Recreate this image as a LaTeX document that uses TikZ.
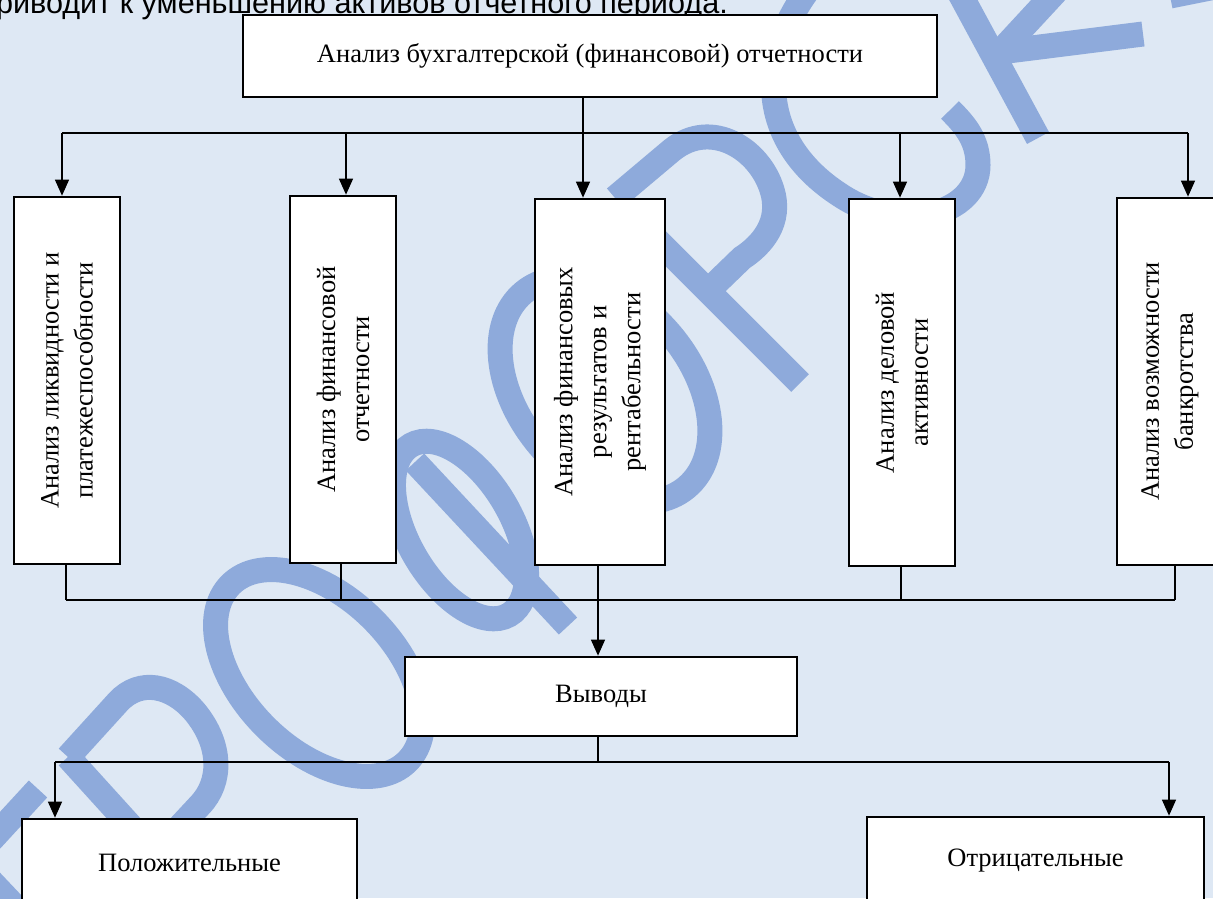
\documentclass[tikz,border=0pt]{standalone}
\usepackage{fontspec}
\setmainfont{Liberation Serif}
\newfontfamily\arialf{Liberation Sans}
\usetikzlibrary{arrows.meta}
\definecolor{bgc}{HTML}{DEE8F4}
\definecolor{wmc}{HTML}{8EAADB}
\begin{document}
\begin{tikzpicture}[x=1pt,y=-1pt,
  box/.style={draw=black, line width=2.7pt, fill=white, inner sep=0pt},
  conn/.style={draw=black, line width=1.3pt},
  arr/.style={conn, -{Triangle[length=16pt,width=14pt]}},
  wm/.style={draw=wmc, line width=25pt},
  htxt/.style={font=\fontsize{26.5}{34}\selectfont},
  vtxt/.style={rotate=90, align=center, font=\fontsize{26.5}{34}\selectfont, inner sep=0pt},
]
\useasboundingbox (0,0) rectangle (1213,898);
\clip (0,0) rectangle (1213,898);
\fill[bgc] (0,0) rectangle (1213,898);

% ---- watermark ----
\draw[wm] (38,789) -- (-20,852);
\draw[wm] (-15,875) -- (20,912);
\draw[wm] (68,757) -- (175,875);
\draw[wm] (68,757) -- (118,702) .. controls (140,678) and (172,685) .. (195,712)
  .. controls (222,745) and (222,782) .. (200,805) -- (160,848);
\begin{scope}[shift={(319,673)}, rotate=-45]
  \draw[wm] (0,0) ellipse [x radius=125pt, y radius=76pt];
\end{scope}
\draw[wm] (415,462) -- (568,626);
\begin{scope}[shift={(460,530)}, rotate=-60]
  \draw[wm] (0,0) ellipse [x radius=98pt, y radius=52pt];
\end{scope}
\begin{scope}[shift={(605,390)}, rotate=-50]
  \draw[wm] (0,0) ellipse [x radius=127pt, y radius=86pt];
\end{scope}
\draw[wm] (615,198) -- (800,383);
\draw[wm] (615,198) -- (672,150) .. controls (712,118) and (760,150) .. (772,190)
  .. controls (782,222) and (762,245) .. (742,258) -- (712,287);
\draw[wm] (820,-25) .. controls (755,50) and (755,140) .. (840,195)
  .. controls (900,235) and (978,215) .. (978,165)
  .. controls (978,140) and (965,125) .. (950,110);
\draw[wm] (958,-10) -- (1038,138);
\draw[wm] (1000,52) -- (1143,34);
\draw[wm] (1000,52) -- (1062,-15);
\draw[wm] (1170,-4) -- (1230,-16);

% ---- text above ----
\node[anchor=base east, inner sep=0pt, font=\arialf\fontsize{30.6}{36}\selectfont] (note) at (728,13)
  {приводит к уменьшению активов отчетного периода.};

% ---- boxes ----
\node[box, htxt, minimum width=694pt, minimum height=82pt] (top) at (590,56)
  {Анализ бухгалтерской (финансовой) отчетности};
\node[box, minimum width=106pt, minimum height=367pt] (b1) at (67,380.5) {};
\node[box, minimum width=106pt, minimum height=367pt] (b2) at (343,379.5) {};
\node[box, minimum width=130pt, minimum height=366pt] (b3) at (600,382) {};
\node[box, minimum width=106pt, minimum height=367pt] (b4) at (902,382.5) {};
\node[box, minimum width=106pt, minimum height=367pt] (b5) at (1170,381.5) {};
\node[vtxt] (t1) at (b1.center) {Анализ ликвидности и\\платежеспособности};
\node[vtxt] (t2) at (b2.center) {Анализ финансовой\\отчетности};
\node[vtxt] (t3) at (b3.center) {Анализ финансовых\\результатов и\\рентабельности};
\node[vtxt] (t4) at (b4.center) {Анализ деловой\\активности};
\node[vtxt] (t5) at (b5.center) {Анализ возможности\\банкротства};
\node[box, htxt, minimum width=392pt, minimum height=79pt] (vyv) at (601,696.5) {Выводы};
\node[box, htxt, minimum width=335pt, minimum height=88pt] (pos) at (189.5,863) {Положительные};
\node[box, htxt, minimum width=337pt, minimum height=88pt] (neg) at (1035.5,861) {Отрицательные};

% ---- upper distribution ----
\coordinate (c1) at (62,133);
\coordinate (c2) at (346,133);
\coordinate (c3) at (583,133);
\coordinate (c4) at (900,133);
\coordinate (c5) at (1188,133);
\draw[conn] (top.south -| c3) -- (c3);
\draw[conn] (c1) -- (c5);
\draw[arr] (c1) -- (c1 |- b1.north);
\draw[arr] (c2) -- (c2 |- b2.north);
\draw[arr] (c3) -- (c3 |- b3.north);
\draw[arr] (c4) -- (c4 |- b4.north);
\draw[arr] (c5) -- (c5 |- b5.north);

% ---- lower collection ----
\coordinate (d1) at (66,600);
\coordinate (d2) at (341,600);
\coordinate (d3) at (598,600);
\coordinate (d4) at (901,600);
\coordinate (d5) at (1175,600);
\draw[conn] (d1 |- b1.south) -- (d1);
\draw[conn] (d2 |- b2.south) -- (d2);
\draw[conn] (d4 |- b4.south) -- (d4);
\draw[conn] (d5 |- b5.south) -- (d5);
\draw[conn] (d1) -- (d5);
\draw[arr] (d3 |- b3.south) -- (d3 |- vyv.north);

% ---- conclusions ----
\coordinate (e0) at (598,762);
\coordinate (e1) at (55,762);
\coordinate (e2) at (1169,762);
\draw[conn] (vyv.south -| e0) -- (e0);
\draw[conn] (e1) -- (e2);
\draw[arr] (e1) -- (e1 |- pos.north);
\draw[arr] (e2) -- (e2 |- neg.north);
\end{tikzpicture}
\end{document}
